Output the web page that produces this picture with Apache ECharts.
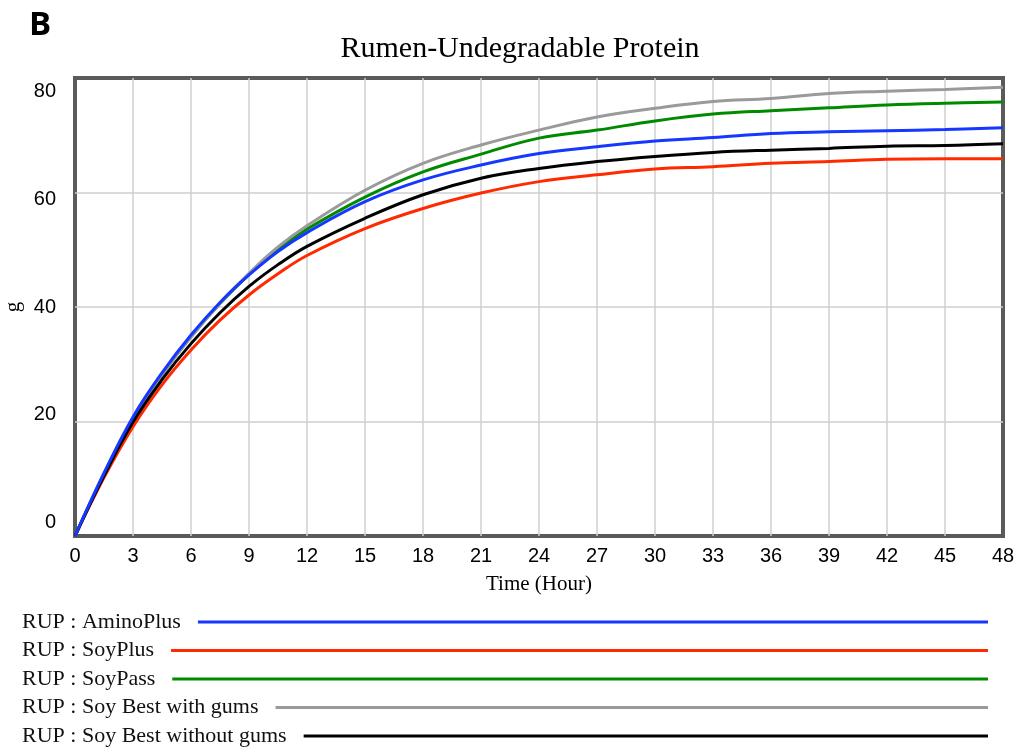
<!DOCTYPE html>
<html style="height: 100%">
<head>
    <meta charset="utf-8">
    <script src="https://cdn.jsdelivr.net/npm/echarts@6/dist/echarts.min.js"></script>
</head>
<body style="height: 100%; margin: 0; background: #fff">
    <div id="container" style="width: 1018px; height: 748px"></div>
    <script type="text/javascript">
        // time axis (hours)
        var hours = [0, 1.5, 3, 4.5, 6, 7.5, 9, 10.5, 12, 15, 18, 21, 24, 27, 30, 33, 36, 39, 42, 45, 48];
        // RUP values (g)
        var aminoPlus = [0, 11.0, 20.8, 28.5, 35.1, 40.8, 45.6, 49.7, 53.0, 58.4, 62.2, 64.8, 66.8, 68.0, 69.0, 69.6, 70.3, 70.6, 70.8, 71.0, 71.3];
        var soyPlus = [0, 10.2, 19.1, 26.4, 32.5, 37.7, 42.1, 45.8, 49.0, 53.7, 57.2, 59.9, 61.9, 63.1, 64.1, 64.5, 65.1, 65.4, 65.8, 65.9, 65.9];
        var soyPass = [0, 10.8, 20.5, 28.2, 34.8, 40.6, 45.7, 50.1, 53.6, 59.2, 63.6, 66.7, 69.5, 70.9, 72.5, 73.7, 74.3, 74.8, 75.3, 75.6, 75.8];
        var soyBestGums = [0, 10.8, 20.5, 28.2, 34.8, 40.7, 45.9, 50.5, 54.2, 60.4, 65.1, 68.3, 70.9, 73.2, 74.7, 75.9, 76.4, 77.3, 77.7, 78.0, 78.4];
        var soyBestNoGums = [0, 10.5, 19.9, 27.3, 33.6, 39.0, 43.6, 47.4, 50.6, 55.5, 59.6, 62.5, 64.2, 65.4, 66.3, 67.0, 67.4, 67.7, 68.1, 68.2, 68.5];
        var yTicks = [0, 20, 40, 60, 80];

        var names = ['RUP : AminoPlus', 'RUP : SoyPlus', 'RUP : SoyPass', 'RUP : Soy Best with gums', 'RUP : Soy Best without gums'];
        var values = [aminoPlus, soyPlus, soyPass, soyBestGums, soyBestNoGums];
        var colors = ['#1537ff', '#ff2a00', '#008a00', '#9a9a9a', '#000000'];
        // drawing order: blue on top
        var drawOrder = [1, 2, 3, 4, 0];

        function pairs(ys) {
            return hours.map(function (h, i) { return [h, ys[i]]; });
        }

        var series = drawOrder.map(function (k) {
            return {
                name: names[k],
                type: 'line',
                data: pairs(values[k]),
                smooth: 0.4,
                showSymbol: false,
                lineStyle: { color: colors[k], width: 3 },
                itemStyle: { color: colors[k] },
                z: 3
            };
        });

        // legend drawn as text + long line, like the original
        var measure = document.createElement('canvas').getContext('2d');
        var legendFont = '22px "Liberation Serif"';
        measure.font = legendFont;
        var graphics = [
            { type: 'text', left: 29, top: 9,
              style: { text: 'B', font: 'bold 33px "Open Sans"', fill: '#000' } }
        ];
        names.forEach(function (n, i) {
            var y = 622 + i * 28.5;
            var w = measure.measureText(n).width;
            graphics.push({ type: 'text', x: 22, y: y,
                style: { text: n, font: legendFont, fill: '#111', textVerticalAlign: 'middle' } });
            graphics.push({ type: 'line', shape: { x1: 22 + w + 17, y1: y, x2: 988, y2: y },
                style: { stroke: colors[i], lineWidth: 3 } });
        });

        var gridLine = { showMinLine: false, showMaxLine: false, lineStyle: { color: '#cfcfcf', width: 1.5 } };

        var dom = document.getElementById("container");
        var myChart = echarts.init(dom);
        var option = {
            animation: false,
            backgroundColor: '#fff',
            title: {
                text: 'Rumen-Undegradable Protein',
                left: 515, top: 29, textAlign: 'center',
                textStyle: { fontFamily: 'Liberation Serif', fontWeight: 'normal', fontSize: 30, color: '#000' }
            },
            grid: {
                show: true, left: 75, right: 15, top: 78, bottom: 212,
                outerBoundsMode: 'none', containLabel: false,
                borderColor: '#5a5a5a', borderWidth: 4
            },
            xAxis: {
                type: 'value', min: 0, max: 48, interval: 3,
                name: 'Time (Hour)', nameLocation: 'middle', nameGap: 38,
                nameTextStyle: { fontFamily: 'Liberation Serif', fontSize: 21, color: '#000' },
                axisLine: { show: false }, axisTick: { show: false },
                axisLabel: { margin: 10, fontFamily: 'Liberation Sans', fontSize: 20, color: '#000' },
                splitLine: gridLine
            },
            yAxis: [{
                type: 'value', min: 0, max: 80, interval: 20,
                name: 'g', nameLocation: 'middle', nameGap: 51,
                nameTextStyle: { fontFamily: 'Liberation Serif', fontSize: 21, color: '#000' },
                axisLine: { show: false }, axisTick: { show: false },
                axisLabel: { show: false },
                splitLine: gridLine
            }, {
                // label-only axis: the original prints tick labels slightly off the grid lines
                type: 'value', position: 'left', min: -2.6, max: 82.6,
                axisLine: { show: false }, axisTick: { show: false },
                splitLine: { show: false },
                axisLabel: {
                    customValues: yTicks, margin: 19,
                    fontFamily: 'Liberation Sans', fontSize: 20, color: '#000'
                }
            }],
            series: series,
            graphic: graphics
        };
        myChart.setOption(option, true);
    </script>
</body>
</html>
